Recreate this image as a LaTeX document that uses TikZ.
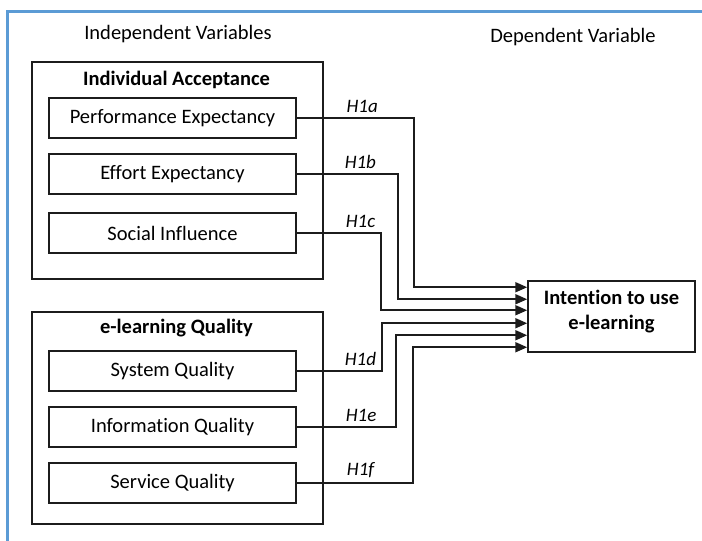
\documentclass[tikz,border=0pt]{standalone}
\usepackage{fontspec}
\setmainfont{Carlito}[Ligatures=NoCommon]
\usetikzlibrary{arrows.meta,calc}
\definecolor{FrameBlue}{HTML}{5B9BD5}
\definecolor{BoxLine}{HTML}{1C1C1C}

\tikzset{
  groupbox/.style={draw=BoxLine,line width=1.5pt,minimum width=291pt,anchor=north west,inner sep=0pt},
  grouptitle/.style={font=\fontsize{20.5}{24}\selectfont\bfseries,inner sep=0pt},
  factor/.style={draw=BoxLine,line width=1.5pt,minimum width=247pt,minimum height=40pt,
    font=\fontsize{20.5}{24}\selectfont,inner sep=0pt},
  heading/.style={font=\fontsize{20.5}{24}\selectfont,inner sep=0pt},
  target/.style={draw=BoxLine,line width=1.5pt,minimum width=167pt,minimum height=71pt,
    align=center,font=\fontsize{20.5}{25}\selectfont\bfseries,inner sep=0pt,text depth=14pt},
  link/.style={draw=BoxLine,line width=2pt,-{Triangle[length=12pt,width=10pt]}},
  hyp/.style={font=\fontsize{19}{22}\selectfont\itshape,above=4pt,inner sep=0pt}
}

\begin{document}
\begin{tikzpicture}[x=1pt,y=-1pt]
\path[use as bounding box] (0,0) rectangle (702,541);
% frame
\draw[FrameBlue,line width=3pt] (7.5,541) -- (7.5,11.5) -- (702,11.5);

\node[heading] (indep) at (178,34) {Independent Variables};
\node[heading] (dep) at (573,37) {Dependent Variable};

% individual acceptance
\node[groupbox,minimum height=217pt] (accept) at (31,61) {};
\node[grouptitle] (acceptT) at (176.5,80) {Individual Acceptance};
\node[factor] (perf) at (172.5,118) {Performance Expectancy};
\node[factor] (effort) at (172.5,174) {Effort Expectancy};
\node[factor] (social) at (172.5,233) {Social Influence};

% e-learning quality
\node[groupbox,minimum height=212pt] (quality) at (31,311) {};
\node[grouptitle] (qualityT) at (176.5,328) {e-learning Quality};
\node[factor] (sysq) at (172.5,371) {System Quality};
\node[factor] (infoq) at (172.5,427) {Information Quality};
\node[factor] (servq) at (172.5,483) {Service Quality};

% dependent variable
\node[target] (use) at (611.5,316.5) {Intention to use\\e-learning};
\foreach \i/\dy in {1/7,2/19,3/30,4/43,5/55,6/67}
  \coordinate (in\i) at ($(use.north west)+(0,\dy)$);

\draw[link] (perf.east) -- node[hyp,pos=.56] (h1a) {H1a} ++(117,0) |- (in1);
\draw[link] (effort.east) -- node[hyp,pos=.63] (h1b) {H1b} ++(101,0) |- (in2);
\draw[link] (social.east) -- node[hyp,pos=.76] (h1c) {H1c} ++(84,0) |- (in3);
\draw[link] (sysq.east) -- node[hyp,pos=.75] (h1d) {H1d} ++(85,0) |- (in4);
\draw[link] (infoq.east) -- node[hyp,pos=.65] (h1e) {H1e} ++(99,0) |- (in5);
\draw[link] (servq.east) -- node[hyp,pos=.55] (h1f) {H1f} ++(116,0) |- (in6);
\end{tikzpicture}
\end{document}
